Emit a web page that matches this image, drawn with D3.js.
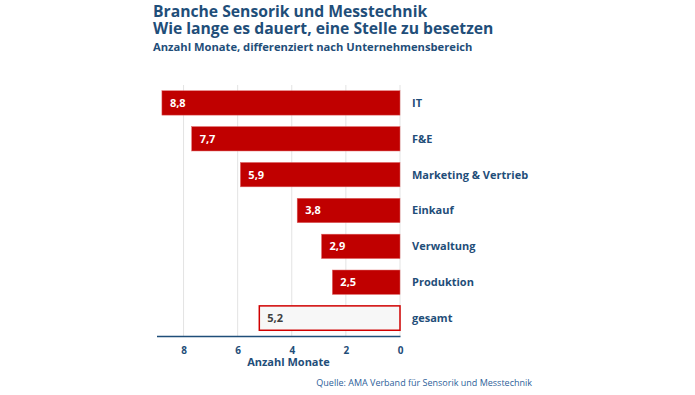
<!DOCTYPE html>
<html>
<head>
<meta charset="utf-8">
<script src="https://d3js.org/d3.v7.min.js"></script>
<style>
  body { margin: 0; background: #fff; }
  text { font-family: "Open Sans", sans-serif; }
</style>
</head>
<body>
<div id="chart"></div>
<script>
// Daten
const categories = ["IT", "F&E", "Marketing & Vertrieb", "Einkauf", "Verwaltung", "Produktion", "gesamt"];
const months = [8.8, 7.7, 5.9, 3.8, 2.9, 2.5, 5.2];
const ticks = [8, 6, 4, 2, 0];

const W = 695, H = 395;
const blue = "#1f4e79";

const svg = d3.select("#chart")
  .append("svg")
  .attr("width", W)
  .attr("height", H);

// Titel
svg.append("text").attr("x", 153).attr("y", 16.5)
  .attr("font-size", 15.7).attr("font-weight", 700).attr("fill", blue)
  .text("Branche Sensorik und Messtechnik");
svg.append("text").attr("x", 153).attr("y", 33.5)
  .attr("font-size", 15.7).attr("font-weight", 700).attr("fill", blue)
  .text("Wie lange es dauert, eine Stelle zu besetzen");
svg.append("text").attr("x", 153).attr("y", 51)
  .attr("font-size", 11.2).attr("font-weight", 700).attr("fill", blue)
  .text("Anzahl Monate, differenziert nach Unternehmensbereich");

const x = d3.scaleLinear().domain([0, 9]).range([400, 156.5]);
const y = d3.scaleBand().domain(categories).range([85, 336])
  .paddingInner(0.32).paddingOuter(0.16);

// Gitternetz
svg.append("g")
  .selectAll("line")
  .data(ticks)
  .join("line")
  .attr("x1", d => x(d)).attr("x2", d => x(d))
  .attr("y1", 85).attr("y2", 336)
  .attr("stroke", "#e3e3e3").attr("stroke-width", 1);

// Balken
svg.append("g")
  .selectAll("rect")
  .data(months)
  .join("rect")
  .attr("x", d => x(d))
  .attr("y", (d, i) => y(categories[i]))
  .attr("width", d => x(0) - x(d))
  .attr("height", y.bandwidth())
  .attr("fill", (d, i) => categories[i] === "gesamt" ? "#f7f7f7" : "#c00000")
  .attr("stroke", (d, i) => categories[i] === "gesamt" ? "#d00000" : "#e06666")
  .attr("stroke-width", (d, i) => categories[i] === "gesamt" ? 1.5 : 0.5);

// Werte
svg.append("g")
  .selectAll("text")
  .data(months)
  .join("text")
  .attr("x", d => x(d) + 8)
  .attr("y", (d, i) => y(categories[i]) + y.bandwidth() / 2)
  .attr("dy", "0.36em")
  .attr("font-size", 11).attr("font-weight", 700)
  .attr("fill", (d, i) => categories[i] === "gesamt" ? "#404040" : "#fff")
  .text(d => d3.format(".1f")(d).replace(".", ","));

// Kategorien
svg.append("g")
  .selectAll("text")
  .data(categories)
  .join("text")
  .attr("x", 412)
  .attr("y", d => y(d) + y.bandwidth() / 2)
  .attr("dy", "0.36em")
  .attr("font-size", 11).attr("font-weight", 700).attr("fill", blue)
  .text(d => d);

// Achse
const axis = svg.append("g")
  .attr("transform", "translate(0,336)")
  .call(d3.axisBottom(x).tickValues(ticks).tickSize(0).tickPadding(11));
axis.select(".domain").attr("stroke", blue).attr("stroke-width", 1.5);
axis.selectAll("text")
  .attr("font-family", "Open Sans, sans-serif")
  .attr("font-size", 10).attr("font-weight", 700).attr("fill", blue);

svg.append("text").attr("x", 288.5).attr("y", 366)
  .attr("text-anchor", "middle")
  .attr("font-size", 11).attr("font-weight", 700).attr("fill", blue)
  .text("Anzahl Monate");

svg.append("text").attr("x", 532).attr("y", 386)
  .attr("text-anchor", "end")
  .attr("font-size", 9).attr("fill", "#2e5f9a")
  .text("Quelle: AMA Verband für Sensorik und Messtechnik");
</script>
</body>
</html>
